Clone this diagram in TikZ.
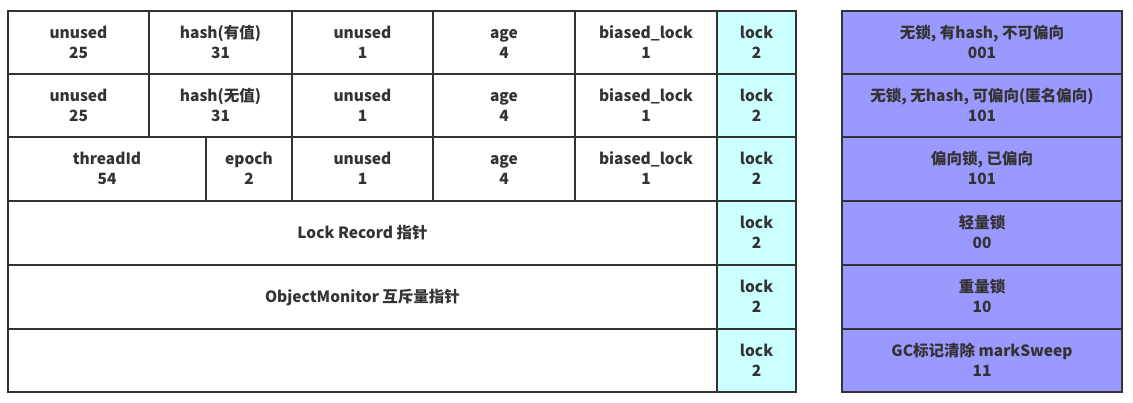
\documentclass[tikz,border=0pt]{standalone}
\usepackage{fontspec}
\setmainfont{Noto Sans CJK SC}
\definecolor{linec}{HTML}{333333}
\definecolor{txtc}{HTML}{333333}
\definecolor{lockc}{HTML}{CCFFFF}
\definecolor{statec}{HTML}{9999FF}
\newcommand\mystrut{\rule[-4pt]{0pt}{20pt}}
\newcommand\twol[2]{\mystrut #1\\\mystrut #2}
\begin{document}
\begin{tikzpicture}[x=1pt,y=-1pt,
  cell/.style={draw=linec, line width=2pt, inner sep=0pt, align=center,
    text=txtc, font=\fontsize{15.5}{20}\selectfont\bfseries, fill=white},
  lockcell/.style={cell, fill=lockc},
  statecell/.style={cell, fill=statec}]
\useasboundingbox (0,0) rectangle (1133,403);
% row 1
\node[cell, minimum width=141pt, minimum height=63pt] (a1) at (78.5,42.5) {\twol{unused}{25}};
\node[cell, minimum width=143pt, minimum height=63pt] (b1) at (220.5,42.5) {\twol{hash(有值)}{31}};
\node[cell, minimum width=141pt, minimum height=63pt] (c1) at (362.5,42.5) {\twol{unused}{1}};
\node[cell, minimum width=142pt, minimum height=63pt] (d1) at (504,42.5) {\twol{age}{4}};
\node[cell, minimum width=142pt, minimum height=63pt] (e1) at (646,42.5) {\twol{biased\_lock}{1}};
\node[lockcell, minimum width=79pt, minimum height=63pt] (f1) at (756.5,42.5) {\twol{lock}{2}};
% row 2
\node[cell, minimum width=141pt, minimum height=63pt] (a2) at (78.5,105.5) {\twol{unused}{25}};
\node[cell, minimum width=143pt, minimum height=63pt] (b2) at (220.5,105.5) {\twol{hash(无值)}{31}};
\node[cell, minimum width=141pt, minimum height=63pt] (c2) at (362.5,105.5) {\twol{unused}{1}};
\node[cell, minimum width=142pt, minimum height=63pt] (d2) at (504,105.5) {\twol{age}{4}};
\node[cell, minimum width=142pt, minimum height=63pt] (e2) at (646,105.5) {\twol{biased\_lock}{1}};
\node[lockcell, minimum width=79pt, minimum height=63pt] (f2) at (756.5,105.5) {\twol{lock}{2}};
% row 3
\node[cell, minimum width=198pt, minimum height=64pt] (a3) at (107,169) {\twol{threadId}{54}};
\node[cell, minimum width=86pt, minimum height=64pt] (b3) at (249,169) {\twol{epoch}{2}};
\node[cell, minimum width=141pt, minimum height=64pt] (c3) at (362.5,169) {\twol{unused}{1}};
\node[cell, minimum width=142pt, minimum height=64pt] (d3) at (504,169) {\twol{age}{4}};
\node[cell, minimum width=142pt, minimum height=64pt] (e3) at (646,169) {\twol{biased\_lock}{1}};
\node[lockcell, minimum width=79pt, minimum height=64pt] (f3) at (756.5,169) {\twol{lock}{2}};
% row 4
\node[cell, minimum width=709pt, minimum height=64pt] (a4) at (362.5,233) {\mystrut Lock Record 指针};
\node[lockcell, minimum width=79pt, minimum height=64pt] (f4) at (756.5,233) {\twol{lock}{2}};
% row 5
\node[cell, minimum width=709pt, minimum height=64pt] (a5) at (362.5,297) {\mystrut ObjectMonitor 互斥量指针};
\node[lockcell, minimum width=79pt, minimum height=64pt] (f5) at (756.5,297) {\twol{lock}{2}};
% row 6
\node[cell, minimum width=709pt, minimum height=63pt] (a6) at (362.5,360.5) {};
\node[lockcell, minimum width=79pt, minimum height=63pt] (f6) at (756.5,360.5) {\twol{lock}{2}};
% state column
\node[statecell, minimum width=280pt, minimum height=63pt] (s1) at (982,42.5) {\twol{无锁, 有hash, 不可偏向}{001}};
\node[statecell, minimum width=280pt, minimum height=63pt] (s2) at (982,105.5) {\twol{无锁, 无hash, 可偏向(匿名偏向)}{101}};
\node[statecell, minimum width=280pt, minimum height=64pt] (s3) at (982,169) {\twol{偏向锁, 已偏向}{101}};
\node[statecell, minimum width=280pt, minimum height=64pt] (s4) at (982,233) {\twol{轻量锁}{00}};
\node[statecell, minimum width=280pt, minimum height=64pt] (s5) at (982,297) {\twol{重量锁}{10}};
\node[statecell, minimum width=280pt, minimum height=63pt] (s6) at (982,360.5) {\twol{GC标记清除 markSweep}{11}};
\end{tikzpicture}
\end{document}
